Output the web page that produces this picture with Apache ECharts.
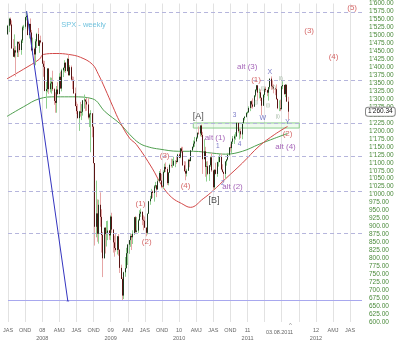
<!DOCTYPE html>
<html><head><meta charset="utf-8">
<script src="https://cdn.jsdelivr.net/npm/echarts@6/dist/echarts.min.js"></script>
<style>html,body{margin:0;padding:0;background:#fff}#c{width:400px;height:342px}</style>
</head><body><div id="c"></div>
<script>
// Weekly SPX candles, first week starts Mon 2007-07-02 (one entry per week)
const opens = [
1503,1530,1552,1534,1459,1433,1453,1446,1479,1474,1454,1484,1525,1527,1557,1561,1501,1536,1509,1453,1458,1440,1481,1504,1467,1484,1478,
1411,1401,1325,1331,1396,1331,1349,1353,1331,1294,1288,1330,1316,1370,1333,1390,1398,1414,1388,1426,1375,1400,1361,1360,1318,1278,1262,1240,1261,1257,1260,1296,1298,1292,1283,1242,1252,1255,1213,1099,899,941,877,968,930,873,800,896,876,880,887,872,
931,890,850,832,826,869,827,770,735,683,756,769,816,843,857,870,866,877,929,883,887,919,940,946,921,918,896,880,940,979,987,1010,1005,1026,1029,1016,1042,1068,1044,1025,1071,1087,1080,1036,1069,1093,1091,1091,1106,1106,1102,1126,
1117,1145,1136,1092,1074,1066,1075,1109,1105,1139,1150,1160,1167,1179,1194,1192,1217,1187,1111,1136,1087,1089,1065,1092,1117,1076,1023,1078,1065,1102,1102,1121,1079,1071,1065,1104,1110,1125,1148,1146,1166,1176,1183,1183,1225,1199,1199,1189,1225,1240,1244,1256,
1258,1272,1293,1283,1276,1311,1329,1343,1320,1321,1304,1279,1313,1332,1328,1320,1337,1364,1340,1338,1333,1331,1300,1271,1271,1268,1340,1344,1316,1345,1292];
const highs = [
1533,1555,1556,1547,1488,1503,1466,1482,1481,1481,1488,1530,1533,1558,1576,1564,1536,1553,1517,1493,1462,1488,1508,1523,1485,1499,1479,
1421,1420,1354,1396,1397,1368,1367,1389,1335,1321,1341,1353,1381,1386,1395,1399,1422,1416,1429,1440,1406,1405,1371,1370,1336,1292,1285,1263,1291,1284,1297,1314,1300,1304,1304,1256,1265,1256,1215,1099,1044,985,984,1007,954,883,896,898,917,918,889,935,
943,892,871,877,870,876,828,780,740,758,804,833,845,857,876,876,888,930,933,930,923,951,956,947,935,931,898,941,980,996,1018,1013,1030,1040,1029,1049,1074,1080,1065,1076,1097,1101,1086,1071,1097,1113,1112,1119,1108,1120,1128,1130,
1146,1150,1150,1105,1104,1081,1112,1113,1139,1151,1170,1181,1182,1195,1214,1217,1220,1197,1174,1150,1104,1105,1093,1120,1131,1078,1079,1100,1103,1120,1130,1129,1095,1073,1105,1111,1131,1149,1158,1167,1184,1189,1196,1227,1226,1207,1207,1227,1241,1247,1259,1262,
1277,1294,1296,1302,1312,1331,1344,1343,1333,1330,1305,1315,1333,1339,1330,1338,1364,1371,1359,1346,1335,1346,1302,1296,1298,1341,1356,1345,1347,1345,1307];
const lows = [
1503,1510,1530,1458,1432,1430,1371,1432,1432,1449,1439,1476,1516,1521,1547,1500,1490,1492,1450,1439,1407,1406,1460,1467,1445,1475,1411,
1370,1325,1270,1321,1316,1321,1317,1325,1282,1257,1257,1312,1315,1333,1324,1369,1384,1382,1386,1373,1373,1360,1331,1316,1277,1253,1239,1200,1245,1234,1248,1270,1262,1263,1236,1212,1133,1180,1097,840,866,852,846,899,818,741,800,815,837,857,858,857,
880,818,805,821,812,808,754,735,667,672,742,768,779,814,836,826,845,873,879,881,880,919,930,904,888,895,869,875,940,968,987,990,978,1020,992,1016,1041,1042,1020,1019,1068,1071,1030,1029,1069,1085,1084,1091,1086,1096,1102,1115,
1114,1131,1090,1071,1045,1057,1075,1086,1105,1135,1145,1150,1167,1175,1188,1183,1181,1065,1111,1056,1041,1061,1043,1087,1071,1011,1018,1063,1056,1088,1102,1076,1069,1040,1050,1091,1107,1122,1135,1131,1159,1159,1172,1181,1194,1173,1177,1174,1222,1233,1242,1252,
1258,1262,1271,1270,1276,1306,1324,1295,1302,1294,1249,1279,1305,1322,1309,1295,1331,1329,1332,1318,1312,1297,1268,1262,1262,1268,1331,1313,1306,1292,1235];
const closes = [
1530,1552,1534,1459,1433,1453,1446,1479,1474,1454,1484,1525,1527,1557,1561,1501,1536,1509,1453,1458,1440,1481,1504,1467,1484,1478,1411,
1401,1325,1331,1396,1331,1349,1353,1331,1294,1288,1330,1316,1370,1333,1390,1398,1414,1388,1426,1375,1400,1361,1360,1318,1278,1262,1240,1261,1257,1260,1296,1298,1292,1283,1242,1252,1255,1213,1099,899,941,877,968,930,873,800,896,876,880,887,872,931,
890,850,832,826,869,827,770,735,683,756,769,816,843,857,870,866,877,929,883,887,919,940,946,921,918,896,880,940,979,987,1010,1005,1026,1029,1016,1042,1068,1044,1025,1071,1087,1080,1036,1069,1093,1091,1091,1106,1106,1102,1126,1115,
1145,1136,1092,1074,1066,1075,1109,1105,1139,1150,1160,1167,1179,1194,1192,1217,1187,1111,1136,1087,1089,1065,1092,1117,1076,1023,1078,1065,1102,1102,1121,1079,1071,1065,1104,1110,1125,1148,1146,1166,1176,1183,1183,1225,1199,1199,1189,1225,1240,1244,1256,1258,
1272,1293,1283,1276,1311,1329,1343,1320,1321,1304,1279,1313,1332,1328,1320,1337,1364,1340,1338,1333,1331,1300,1271,1271,1268,1340,1344,1316,1345,1292,1260.34];

// Moving averages (x in weeks since 2008-01-01)
const ma100Weeks = [-27,-14.1,-2.2,0.8,10.5,20.2,29.1,38.1,42.6,47.8,53.7,58.9,66.4,71.6,83.5,91.0,98.4,105.9,112.6,122.3,129.7,139.4,152.1,164.8,176.7,186.4];
const ma100Vals  = [1363,1394,1425,1440,1443,1440,1431,1409,1378,1332,1276,1229,1177,1157,1083,1028,991,972,960,987,1012,1050,1099,1152,1189,1214];
const ma200Weeks = [-27,-14.1,-2.2,10.5,23.2,38.1,47.8,58.9,66.4,73.9,81.3,88.8,103.7,114.8,129.7,139.4,152.1,164.8,176.7,186.4];
const ma200Vals  = [1245,1276,1301,1307,1307,1301,1260,1223,1189,1161,1149,1143,1136,1136,1130,1127,1136,1158,1177,1192];

// Horizontal levels and trend line
const dashedLevels = [1573,1359,1224,1120,1012,878];
const lowLevel = 666.79;
const trendFrom = [-11.86, 1576];
const trendTo = [19.45, 665];
const boxFrom = [114.8, 1225];
const boxTo = [195.3, 1209];

// x tick labels, one per quarter from Jul 2007
const xTickLabels = ['JAS','OND','08\n2008','AMJ','JAS','OND','09\n2009','AMJ','JAS','OND','10\n2010','AMJ','JAS','OND','11\n2011','','','','12\n2012','AMJ','JAS'];

// Wave annotations: text, week, price, colour key, font size
const notes = [
 ['SPX - weekly',31.4,1533,'teal',7.5],
 ['[A]',118.6,1245,'black',9],
 ['[B]',130.5,982,'black',9],
 ['(1)',74.6,972,'red',8],
 ['(2)',79.4,851,'red',8],
 ['(3)',93.0,1121,'red',8],
 ['(4)',108.9,1028,'red',8],
 ['alt (1)',131.2,1177,'purple',8],
 ['1',133.5,1151,'blue',6.5],
 ['2',137.2,1037,'blue',6.5],
 ['alt (2)',144.6,1025,'purple',8],
 ['3',146.1,1248,'blue',6.5],
 ['4',149.9,1159,'blue',6.5],
 ['alt (3)',155.8,1400,'purple',8],
 ['(1)',162.5,1360,'red',8],
 ['X',173.0,1385,'blue',7],
 ['W',167.7,1239,'blue',7],
 ['Y',186.4,1227,'blue',7],
 ['(2)',186.4,1192,'red',8],
 ['alt (4)',184.9,1149,'purple',8],
 ['(3)',202.8,1515,'red',8],
 ['(4)',221.4,1434,'red',8],
 ['(5)',235.5,1586,'red',8],
 ['(i)',162.5,1288,'small',4.5],
 ['(i)',167.7,1332,'small',4.5],
 ['(i)',176.0,1336,'small',4.5],
 ['(i)',171.5,1279,'small',4.5],
 ['(i)',178.9,1245,'small',4.5],
 ['(i)',181.2,1363,'small',4.5],
 ['^',19.45,662,'trend',6]
];
const noteColors = {teal:'#4fb4d6', black:'#222', red:'#cc4444', purple:'#9040a8', blue:'#5656b8', small:'#7a9a7a', trend:'#3535c0'};

const X0 = Date.UTC(2008,0,1);
const firstMid = Date.UTC(2007,6,4);
const firstW = (firstMid - X0) / (7*864e5);
const xs = closes.map((_, i) => firstW + i);
const candleData = xs.map((x,i)=>[x, opens[i], closes[i], lows[i], highs[i]]);
const bodyData = xs.map((x,i)=>[x, opens[i], closes[i], Math.min(opens[i],closes[i]), Math.max(opens[i],closes[i])]);
const lastClose = closes[closes.length-1];

function fmtY(v){
  const s = v.toFixed(2); const parts = s.split('.');
  return parts[0].replace(/\B(?=(\d{3})+(?!\d))/g, "'") + '.' + parts[1];
}
const FONT = 'Liberation Sans, Arial, sans-serif';
const XMIN = -26, XINT = 13;

const chart = echarts.init(document.getElementById('c'), null, {renderer:'canvas'});
const markLines = dashedLevels.map(v=>({yAxis:v, lineStyle:{type:[4,3], color:'#b5b5dc', width:1}}));
markLines.push({yAxis: lowLevel, lineStyle:{type:'solid', color:'#a8a8ee', width:1}});
markLines.push([{coord: trendFrom}, {coord: trendTo, lineStyle:{color:'#3535c0', width:1, type:'solid'}}]);
markLines.push({yAxis: lastClose, lineStyle:{color:'rgba(0,0,0,0)', width:0.01}, label:{show:true, position:'end', distance:4,
  formatter: ()=>fmtY(lastClose), color:'#111', fontSize:6.5, fontFamily:FONT, backgroundColor:'#fff',
  borderColor:'#888', borderWidth:1, borderRadius:2, padding:[1,2,0,2]}});

chart.setOption({
  animation:false,
  backgroundColor:'#fff',
  grid:{left:1, right:38, top:0, bottom:19, containLabel:false},
  xAxis:{type:'value', min:XMIN, max:243, interval:XINT,
    axisLine:{show:false}, axisTick:{show:false},
    splitLine:{show:true, showMaxLine:false, lineStyle:{color:'#e2e2e2', width:1}},
    axisLabel:{fontSize:5.5, color:'#666', fontFamily:FONT, lineHeight:7.5, margin:5, showMaxLabel:false,
      formatter:v=>{const q=Math.round((v-XMIN)/XINT); if(Math.abs(v-XMIN-q*XINT)>0.01) return ''; return xTickLabels[q]||'';}}},
  yAxis:{type:'value', position:'right', min:600, max:1600, interval:25, scale:true,
    axisLine:{show:false}, axisTick:{show:false}, splitLine:{show:false},
    axisLabel:{fontSize:6.5, color:'#4a8a3a', fontFamily:FONT, margin:7, formatter:fmtY}},
  series:[
    {type:'line', data:ma200Weeks.map((w,i)=>[w,ma200Vals[i]]), smooth:0.4, symbol:'none', lineStyle:{color:'#4f9f4f', width:1}, z:2},
    {type:'line', data:ma100Weeks.map((w,i)=>[w,ma100Vals[i]]), smooth:0.4, symbol:'none', lineStyle:{color:'#d24848', width:1}, z:2},
    {type:'candlestick', data:candleData, encode:{x:0,y:[1,2,3,4]}, barWidth:1, z:3,
      itemStyle:{color:'#8fcf8f', color0:'#e6a6a6', borderColor:'#8fcf8f', borderColor0:'#e6a6a6', borderWidth:1}},
    {type:'candlestick', data:bodyData, encode:{x:0,y:[1,2,3,4]}, barWidth:1, z:4,
      itemStyle:{color:'#1f3a1f', color0:'#5a1414', borderColor:'#1f3a1f', borderColor0:'#5a1414', borderWidth:1},
      markLine:{silent:true, symbol:['none','none'], label:{show:false}, data:markLines},
      markArea:{silent:true, itemStyle:{color:'rgba(190,235,190,0.25)', borderColor:'#8ccf8c', borderWidth:1},
        data:[[{coord:boxFrom},{coord:boxTo}]]}},
    {type:'scatter', symbolSize:1, itemStyle:{color:'rgba(0,0,0,0)'}, z:10, silent:true,
      data:notes.map(n=>({value:[n[1],n[2]], name:n[0],
        label:{show:true, position:'inside', formatter:n[0], color:noteColors[n[3]], fontSize:n[4], fontFamily:FONT}}))}
  ],
  graphic:[
    {type:'text', left:266, top:329, style:{text:'03.08.2011', fontSize:5.5, fill:'#666', fontFamily:FONT}},
    {type:'text', left:289, top:322, style:{text:'^', fontSize:6, fill:'#888', fontFamily:FONT}}
  ]
});
</script></body></html>
